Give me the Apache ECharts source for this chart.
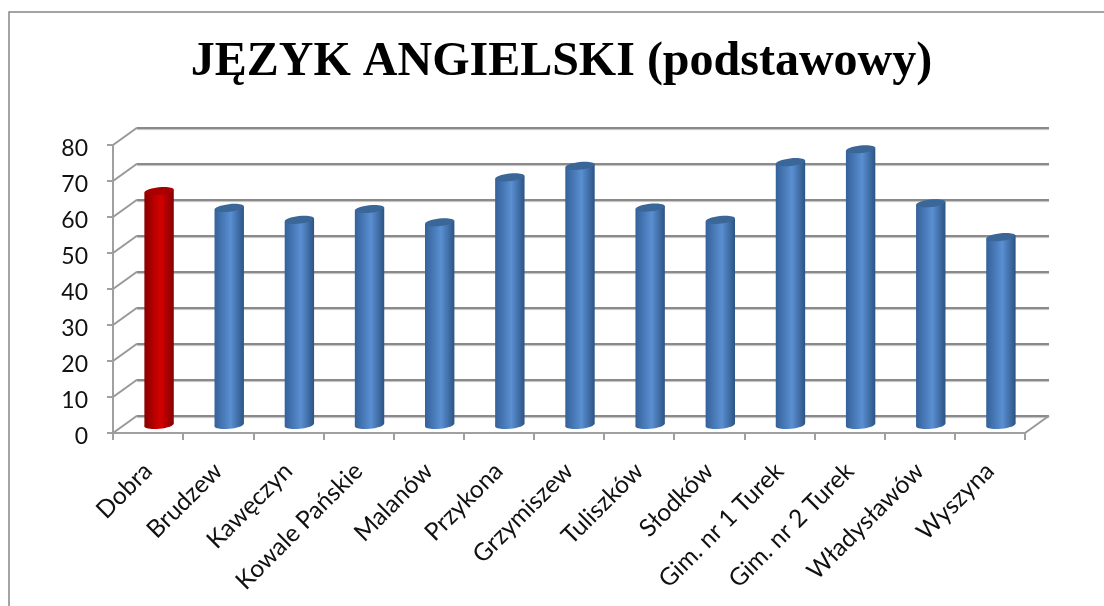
<!DOCTYPE html>
<html lang="pl">
<head>
  <meta charset="UTF-8">
  <title>Język angielski</title>
  <style type="text/css">
    * {
      margin: 0;
      padding: 0;
    }
    html, body {
      height: 100%;
      width: 100%;
      overflow: hidden;
      background: #fff;
    }
    #main {
      width: 1104px;
      height: 606px;
    }
  </style>
  <script type="text/javascript" src="https://cdn.jsdelivr.net/npm/echarts@6/dist/echarts.min.js"></script>
</head>
<body>
<div id="main"></div>
<script type="text/javascript">
  var titleText = 'JĘZYK ANGIELSKI (podstawowy)';
  var categories = ['Dobra', 'Brudzew', 'Kawęczyn', 'Kowale Pańskie', 'Malanów', 'Przykona', 'Grzymiszew',
    'Tuliszków', 'Słodków', 'Gim. nr 1 Turek', 'Gim. nr 2 Turek', 'Władysławów', 'Wyszyna'];
  var scores = [65, 60.3, 57, 60, 56.3, 68.8, 72, 60.4, 57, 73, 76.6, 61.6, 52.2];
  var yTicks = [0, 10, 20, 30, 40, 50, 60, 70, 80];

  // 3d look: the back wall and the bars sit in their own grids, shifted from the front axis
  var depthX = 24;
  var depthY = 17.3;

  function grad(edgeL, mid, edgeR) {
    return new echarts.graphic.LinearGradient(0, 0, 1, 0, [
      { offset: 0, color: edgeL },
      { offset: 0.55, color: mid },
      { offset: 1, color: edgeR }
    ]);
  }

  function renderCylinder(params, api) {
    var i = api.value(0);
    var top = api.coord([i, api.value(1)]);
    var bottom = api.coord([i, 0]);
    var rx = 14.7, ry = 3.8, tilt = 0.11, lift = rx * Math.sin(tilt);
    var red = i === 0;
    var body = red ? grad('#8a0000', '#d40000', '#840000') : grad('#34619a', '#5a8fd2', '#2c5484');
    var cap = red ? '#a80000' : '#3a6698';
    return {
      type: 'group',
      children: [
        { type: 'ellipse', x: bottom[0], y: bottom[1], rotation: tilt,
          shape: { cx: 0, cy: 0, rx: rx, ry: ry }, style: { fill: body } },
        { type: 'polygon',
          shape: { points: [
            [top[0] - rx, top[1] + lift], [top[0] + rx, top[1] - lift],
            [bottom[0] + rx, bottom[1] - lift], [bottom[0] - rx, bottom[1] + lift]
          ] },
          style: { fill: body } },
        { type: 'ellipse', x: top[0], y: top[1], rotation: tilt,
          shape: { cx: 0, cy: 0, rx: rx, ry: ry }, style: { fill: cap } }
      ]
    };
  }

  function renderDepthLine(params, api) {
    var v = api.value(0);
    var halfBand = api.size([1, 0])[0] / 2;
    var p = api.coord([0, v]);
    var x0 = p[0] - halfBand;
    var lines = [[x0, p[1]]];
    // floor also has the right hand edge
    if (v === 0) {
      lines.push([api.coord([categories.length - 1, 0])[0] + halfBand, p[1]]);
    }
    return {
      type: 'group',
      children: lines.map(function (s) {
        return {
          type: 'line',
          shape: { x1: s[0], y1: s[1], x2: s[0] + depthX, y2: s[1] - depthY },
          style: { stroke: '#989898', lineWidth: 2 }
        };
      })
    };
  }

  var myChart = echarts.init(document.getElementById('main'), null, { renderer: 'canvas' });
  myChart.setOption({
    animation: false,
    backgroundColor: '#fff',
    title: {
      text: titleText,
      left: 556.5,
      top: 34,
      textAlign: 'center',
      textStyle: {
        fontFamily: 'Liberation Serif',
        fontWeight: 'bold',
        fontSize: 48,
        color: '#000'
      }
    },
    // the frame is cut off by the picture: only top and left edges show
    graphic: [{
      type: 'polyline',
      silent: true,
      z: -1,
      shape: { points: [[9, 620], [9, 12], [1110, 12]] },
      style: { fill: 'none', stroke: '#868686', lineWidth: 1.5 }
    }],
    grid: [
      { left: 113, width: 912, top: 145, height: 288 },
      { left: 113 + depthX, width: 912, top: 145 - depthY, height: 288 },
      { left: 113 + depthX / 2 - 1, width: 912, top: 137, height: 288 }
    ],
    xAxis: [
      {
        gridIndex: 0,
        type: 'category',
        data: categories,
        axisLine: { show: true, lineStyle: { color: '#a0a0a0', width: 2 } },
        axisTick: { show: true, alignWithLabel: false, interval: 0, length: 7, lineStyle: { color: '#a0a0a0', width: 2 } },
        axisLabel: {
          interval: 0,
          rotate: 45,
          margin: 34,
          color: '#111',
          fontFamily: 'Lato',
          fontSize: 24.5
        }
      },
      { gridIndex: 1, type: 'category', data: categories, show: false },
      { gridIndex: 2, type: 'category', data: categories, show: false }
    ],
    yAxis: [
      {
        gridIndex: 0,
        type: 'value',
        min: 0,
        max: 80,
        interval: 10,
        axisLine: { show: true, lineStyle: { color: '#a0a0a0', width: 2 } },
        axisTick: { show: true, length: 6, lineStyle: { color: '#a0a0a0', width: 2 } },
        splitLine: { show: false },
        axisLabel: {
          margin: 25,
          color: '#111',
          fontFamily: 'Lato',
          fontSize: 23,
          verticalAlign: 'top',
          lineHeight: 8
        }
      },
      {
        gridIndex: 1,
        type: 'value',
        min: 0,
        max: 80,
        interval: 10,
        axisLine: { show: false },
        axisTick: { show: false },
        axisLabel: { show: false },
        splitLine: {
          show: true,
          lineStyle: { color: '#8a8a8a', width: 2, shadowColor: 'rgba(0,0,0,0.25)', shadowBlur: 1, shadowOffsetY: 1 }
        }
      },
      { gridIndex: 2, type: 'value', min: 0, max: 80, interval: 10, show: false }
    ],
    series: [
      {
        type: 'custom',
        xAxisIndex: 0,
        yAxisIndex: 0,
        silent: true,
        clip: false,
        z: 1,
        data: yTicks.map(function (v) { return [v]; }),
        encode: { x: -1, y: 0 },
        renderItem: renderDepthLine
      },
      {
        type: 'custom',
        xAxisIndex: 2,
        yAxisIndex: 2,
        silent: true,
        clip: false,
        z: 5,
        data: scores.map(function (v, i) { return [i, v]; }),
        encode: { x: 0, y: 1 },
        renderItem: renderCylinder
      }
    ]
  });
</script>
</body>
</html>
